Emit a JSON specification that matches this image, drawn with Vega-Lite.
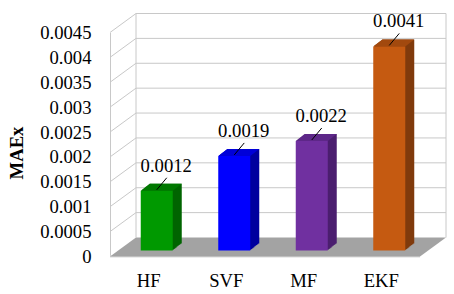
{
  "$schema": "https://vega.github.io/schema/vega-lite/v6.json",
  "width": 310,
  "height": 224,
  "autosize": "none",
  "padding": {"left": 110, "top": 32.5, "right": 34, "bottom": 37.5},
  "background": "white",
  "config": {
    "view": {"stroke": null},
    "axisY": {"grid": false, "ticks": false, "tickSize": 0, "labelPadding": 19, "labelFont": "Liberation Serif", "labelFontSize": 18.67, "labelColor": "#000000",
      "domain": true, "domainColor": "#c8c8c8", "domainWidth": 1,
      "titleFont": "Liberation Serif", "titleFontSize": 18.67, "titleFontWeight": "bold", "titleColor": "#000000", "titleX": -84, "titleY": 120},
    "axisX": {"grid": false, "ticks": false, "tickSize": 0, "domain": false, "labelPadding": 15, "labelAngle": 0, "labelAlign": "center",
      "labelFont": "Liberation Serif", "labelFontSize": 18.67, "labelColor": "#000000"}
  },
  "datasets": {
    "bars": [
      {"method": "HF", "MAEx": 0.0012},
      {"method": "SVF", "MAEx": 0.0019},
      {"method": "MF", "MAEx": 0.0022},
      {"method": "EKF", "MAEx": 0.0041}
    ],
    "ticks": [
      {"v": 0.0005}, {"v": 0.001}, {"v": 0.0015}, {"v": 0.002}, {"v": 0.0025},
      {"v": 0.003}, {"v": 0.0035}, {"v": 0.004}, {"v": 0.0045}
    ],
    "frame": [{"bottom": 0, "top": 0.0045}]
  },
  "resolve": {"scale": {"color": "independent"}},
  "layer": [
    {
      "data": {"name": "ticks"},
      "mark": {"type": "rule", "color": "#c8c8c8", "strokeWidth": 1, "xOffset": 26, "x2Offset": 26, "yOffset": -19, "y2Offset": -19},
      "encoding": {
        "x": {"datum": "HF", "type": "nominal", "bandPosition": 0, "axis": {"title": null}},
        "x2": {"datum": "EKF", "bandPosition": 1},
        "y": {"field": "v", "type": "quantitative", "axis": {"values": [0, 0.0005, 0.001, 0.0015, 0.002, 0.0025, 0.003, 0.0035, 0.004, 0.0045], "format": "~g", "title": "MAEx"}},
        "y2": {"field": "v"}
      }
    },
    {
      "data": {"name": "ticks"},
      "mark": {"type": "point", "shape": "M0,0L26,-19", "size": 4, "filled": false, "stroke": "#c8c8c8", "strokeWidth": 1, "opacity": 1},
      "encoding": {
        "x": {"datum": "HF", "type": "nominal", "bandPosition": 0, "axis": {"title": null}},
        "y": {"field": "v", "type": "quantitative", "axis": {"values": [0, 0.0005, 0.001, 0.0015, 0.002, 0.0025, 0.003, 0.0035, 0.004, 0.0045], "format": "~g", "title": "MAEx"}}
      }
    },
    {
      "data": {"name": "frame"},
      "mark": {"type": "rule", "color": "#c8c8c8", "strokeWidth": 1, "xOffset": 26, "yOffset": -19, "y2Offset": -19},
      "encoding": {
        "x": {"datum": "HF", "type": "nominal", "bandPosition": 0, "axis": {"title": null}},
        "y": {"field": "bottom", "type": "quantitative", "axis": {"values": [0, 0.0005, 0.001, 0.0015, 0.002, 0.0025, 0.003, 0.0035, 0.004, 0.0045], "format": "~g", "title": "MAEx"}},
        "y2": {"field": "top"}
      }
    },
    {
      "data": {"name": "frame"},
      "mark": {"type": "rule", "color": "#c8c8c8", "strokeWidth": 1, "xOffset": 26, "yOffset": -19, "y2Offset": -19},
      "encoding": {
        "x": {"datum": "EKF", "type": "nominal", "bandPosition": 1, "axis": {"title": null}},
        "y": {"field": "bottom", "type": "quantitative", "axis": {"values": [0, 0.0005, 0.001, 0.0015, 0.002, 0.0025, 0.003, 0.0035, 0.004, 0.0045], "format": "~g", "title": "MAEx"}},
        "y2": {"field": "top"}
      }
    },
    {
      "data": {"name": "frame"},
      "mark": {"type": "rule", "color": "#d9d9d9", "strokeWidth": 2},
      "encoding": {
        "x": {"datum": "HF", "type": "nominal", "bandPosition": 0, "axis": {"title": null}},
        "x2": {"datum": "EKF", "bandPosition": 1},
        "y": {"field": "bottom", "type": "quantitative", "axis": {"values": [0, 0.0005, 0.001, 0.0015, 0.002, 0.0025, 0.003, 0.0035, 0.004, 0.0045], "format": "~g", "title": "MAEx"}},
        "y2": {"field": "bottom"}
      }
    },
    {
      "data": {"name": "frame"},
      "mark": {"type": "point", "shape": "M0,0L310,0L336,-19L26,-19Z", "size": 4, "filled": true, "fill": "#a3a3a3", "strokeWidth": 0, "opacity": 1},
      "encoding": {
        "x": {"datum": "HF", "type": "nominal", "bandPosition": 0, "axis": {"title": null}},
        "y": {"field": "bottom", "type": "quantitative", "axis": {"values": [0, 0.0005, 0.001, 0.0015, 0.002, 0.0025, 0.003, 0.0035, 0.004, 0.0045], "format": "~g", "title": "MAEx"}}
      }
    },
    {
      "data": {"name": "bars"},
      "resolve": {"scale": {"color": "independent"}},
      "layer": [
        {"mark": {"type": "bar", "width": 32, "xOffset": 17, "x2Offset": 17, "yOffset": -13, "y2Offset": -13},
         "encoding": {"color": {"field": "method", "type": "nominal", "legend": null, "scale": {"domain": ["HF", "SVF", "MF", "EKF"], "range": ["#006400", "#00009e", "#4b1f6f", "#813b0c"]}}}},
        {"mark": {"type": "bar", "width": 32, "xOffset": 16, "x2Offset": 16, "yOffset": -12.2, "y2Offset": -12.2},
         "encoding": {"color": {"field": "method", "type": "nominal", "legend": null, "scale": {"domain": ["HF", "SVF", "MF", "EKF"], "range": ["#006400", "#00009e", "#4b1f6f", "#813b0c"]}}}},
        {"mark": {"type": "bar", "width": 32, "xOffset": 15, "x2Offset": 15, "yOffset": -11.4, "y2Offset": -11.4},
         "encoding": {"color": {"field": "method", "type": "nominal", "legend": null, "scale": {"domain": ["HF", "SVF", "MF", "EKF"], "range": ["#006400", "#00009e", "#4b1f6f", "#813b0c"]}}}},
        {"mark": {"type": "bar", "width": 32, "xOffset": 14, "x2Offset": 14, "yOffset": -10.7, "y2Offset": -10.7},
         "encoding": {"color": {"field": "method", "type": "nominal", "legend": null, "scale": {"domain": ["HF", "SVF", "MF", "EKF"], "range": ["#006400", "#00009e", "#4b1f6f", "#813b0c"]}}}},
        {"mark": {"type": "bar", "width": 32, "xOffset": 13, "x2Offset": 13, "yOffset": -9.9, "y2Offset": -9.9},
         "encoding": {"color": {"field": "method", "type": "nominal", "legend": null, "scale": {"domain": ["HF", "SVF", "MF", "EKF"], "range": ["#006400", "#00009e", "#4b1f6f", "#813b0c"]}}}},
        {"mark": {"type": "bar", "width": 32, "xOffset": 12, "x2Offset": 12, "yOffset": -9.1, "y2Offset": -9.1},
         "encoding": {"color": {"field": "method", "type": "nominal", "legend": null, "scale": {"domain": ["HF", "SVF", "MF", "EKF"], "range": ["#006400", "#00009e", "#4b1f6f", "#813b0c"]}}}},
        {"mark": {"type": "bar", "width": 32, "xOffset": 11, "x2Offset": 11, "yOffset": -8.3, "y2Offset": -8.3},
         "encoding": {"color": {"field": "method", "type": "nominal", "legend": null, "scale": {"domain": ["HF", "SVF", "MF", "EKF"], "range": ["#006400", "#00009e", "#4b1f6f", "#813b0c"]}}}},
        {"mark": {"type": "bar", "width": 32, "xOffset": 10, "x2Offset": 10, "yOffset": -7.6, "y2Offset": -7.6},
         "encoding": {"color": {"field": "method", "type": "nominal", "legend": null, "scale": {"domain": ["HF", "SVF", "MF", "EKF"], "range": ["#006400", "#00009e", "#4b1f6f", "#813b0c"]}}}},
        {"mark": {"type": "bar", "width": 32, "xOffset": 9, "x2Offset": 9, "yOffset": -6.8, "y2Offset": -6.8},
         "encoding": {"color": {"field": "method", "type": "nominal", "legend": null, "scale": {"domain": ["HF", "SVF", "MF", "EKF"], "range": ["#006400", "#00009e", "#4b1f6f", "#813b0c"]}}}},
        {"mark": {"type": "point", "shape": "M-16,0L16,0L25,-7L-7,-7Z", "size": 4, "filled": true, "strokeWidth": 0, "opacity": 1, "xOffset": 8, "yOffset": -6},
         "encoding": {"color": {"field": "method", "type": "nominal", "legend": null, "scale": {"domain": ["HF", "SVF", "MF", "EKF"], "range": ["#007800", "#0000d8", "#5d2788", "#a2490e"]}}}},
        {"mark": {"type": "bar", "width": 32, "xOffset": 8, "x2Offset": 8, "yOffset": -6, "y2Offset": -6},
         "encoding": {"color": {"field": "method", "type": "nominal", "legend": null, "scale": {"domain": ["HF", "SVF", "MF", "EKF"], "range": ["#009900", "#0000ff", "#7030a0", "#c55a11"]}}}},
        {"mark": {"type": "point", "shape": "M8,-7L18,-19", "size": 4, "filled": false, "stroke": "#000000", "strokeWidth": 1, "opacity": 1}},
        {"mark": {"type": "text", "font": "Liberation Serif", "fontSize": 18.67, "color": "#000000", "align": "center", "baseline": "alphabetic", "xOffset": 17.5, "yOffset": -25},
         "encoding": {"text": {"field": "MAEx", "type": "quantitative", "format": ".4f"}}}
      ],
      "encoding": {
        "x": {"field": "method", "type": "nominal", "sort": ["HF", "SVF", "MF", "EKF"],
          "scale": {"type": "band", "domain": ["HF", "SVF", "MF", "EKF"], "paddingInner": 0, "paddingOuter": 0},
          "axis": {"title": null}},
        "y": {"field": "MAEx", "type": "quantitative",
          "scale": {"domain": [0, 0.0045], "nice": false, "zero": true},
          "axis": {"values": [0, 0.0005, 0.001, 0.0015, 0.002, 0.0025, 0.003, 0.0035, 0.004, 0.0045], "format": "~g", "title": "MAEx"}
        }
      }
    }
  ]
}
